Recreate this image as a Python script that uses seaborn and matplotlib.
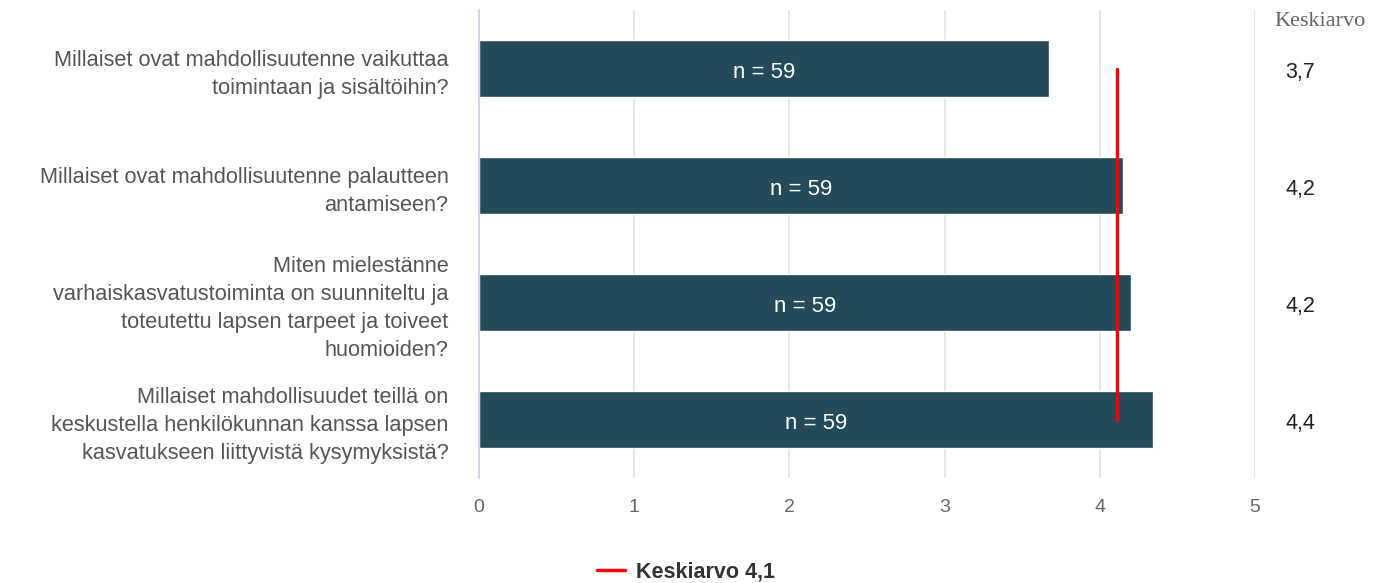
import matplotlib
matplotlib.use("Agg")
import matplotlib.pyplot as plt
import matplotlib.transforms as mtransforms
from matplotlib.lines import Line2D
import seaborn as sns
import pandas as pd

# data
questions = [
    "Millaiset ovat mahdollisuutenne vaikuttaa\ntoimintaan ja sisältöihin?",
    "Millaiset ovat mahdollisuutenne palautteen\nantamiseen?",
    "Miten mielestänne\nvarhaiskasvatustoiminta on suunniteltu ja\ntoteutettu lapsen tarpeet ja toiveet\nhuomioiden?",
    "Millaiset mahdollisuudet teillä on\nkeskustella henkilökunnan kanssa lapsen\nkasvatukseen liittyvistä kysymyksistä?",
]
means = [3.67, 4.15, 4.20, 4.34]
mean_labels = ["3,7", "4,2", "4,2", "4,4"]
counts = [59, 59, 59, 59]
overall_mean = 4.11
overall_label = "Keskiarvo 4,1"
x_ticks = [0, 1, 2, 3, 4, 5]

df = pd.DataFrame({"question": questions, "mean": means})

sns.set_theme(style="white")
plt.rcParams["font.family"] = ["Liberation Sans", "DejaVu Sans"]

fig = plt.figure(figsize=(13.82, 5.83), dpi=100)
ax = fig.add_axes([479 / 1382, 1 - 478 / 583, 776 / 1382, 468 / 583])

sns.barplot(data=df, x="mean", y="question", orient="h", color="#234b5a",
            saturation=1, width=0.49, ax=ax)

# overall mean line
ax.plot([overall_mean, overall_mean], [0, len(means) - 1], color="#ff0000", linewidth=2.5)

ax.set_xlim(0, 5)
ax.set_ylim(len(means) - 0.5, -0.5)
ax.set_xticks(x_ticks)
ax.set_xlabel("")
ax.set_ylabel("")
ax.grid(axis="x", color="#e3e3e3", linewidth=1.2)
ax.set_axisbelow(True)
for side in ["top", "right", "bottom"]:
    ax.spines[side].set_visible(False)
ax.spines["left"].set_color("#c9d2ea")
ax.spines["left"].set_linewidth(1.2)
ax.tick_params(axis="x", length=0, pad=15, labelsize=14, labelcolor="#666666")
ax.tick_params(axis="y", length=0, pad=22, labelsize=15.7, labelcolor="#555555")
for lbl in ax.get_yticklabels():
    lbl.set_horizontalalignment("right")
    lbl.set_multialignment("right")
    lbl.set_linespacing(1.45)

# n labels inside bars
for i, (m, n) in enumerate(zip(means, counts)):
    ax.text(m / 2, i + 0.03, f"n = {n}", color="white", ha="center", va="center", fontsize=16)

# right column of means
trans = mtransforms.blended_transform_factory(ax.transAxes, ax.transData)
ax.text(1.084, -0.40, "Keskiarvo", transform=trans, ha="center", va="center",
        fontsize=16, color="#666666", family="Liberation Serif")
for i, lab in enumerate(mean_labels):
    ax.text(1.058, i + 0.03, lab, transform=trans, ha="center", va="center",
            fontsize=15.5, color="#222222")

handle = Line2D([], [], color="#ff0000", linewidth=2.5)
leg = fig.legend([handle], [overall_label], loc="center",
                 bbox_to_anchor=(686 / 1382, 1 - 572 / 583), frameon=False,
                 handlelength=1.3, handletextpad=0.5,
                 prop={"weight": "bold", "size": 15.5})
for t in leg.get_texts():
    t.set_color("#333333")

fig.savefig("out.png", dpi=100)
